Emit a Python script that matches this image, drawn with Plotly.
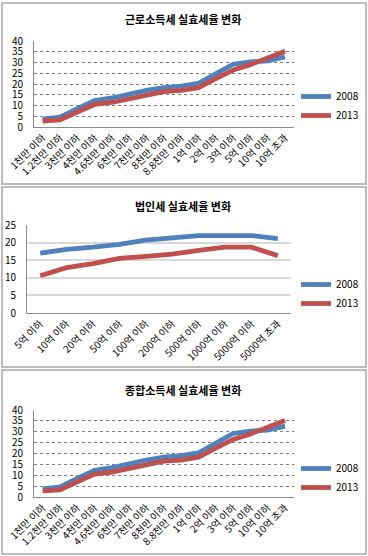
import plotly.graph_objects as go

W, H = 368, 556

# ---- data ----
income_cats = ["1천만 이하", "1.2천만 이하", "3천만 이하", "4천만 이하", "4.6천만 이하",
               "6천만 이하", "7천만 이하", "8천만 이하", "8.8천만 이하", "1억 이하",
               "2억 이하", "3억 이하", "5억 이하", "10억 이하", "10억 초과"]
labor_2008 = [3.7, 4.6, 8.5, 12.3, 13.5, 15.3, 17.0, 18.3, 19.0, 20.3, 24.5, 29.2, 30.3, 30.8, 32.6]
labor_2013 = [2.8, 3.3, 7.0, 10.5, 11.4, 13.0, 15.0, 16.5, 17.0, 18.3, 22.5, 26.5, 29.0, 32.0, 35.2]

corp_cats = ["5억 이하", "10억 이하", "20억 이하", "50억 이하", "100억 이하",
             "200억 이하", "500억 이하", "1000억 이하", "5000억 이하", "5000억 초과"]
corp_2008 = [17.0, 18.1, 18.7, 19.5, 20.7, 21.2, 22.0, 22.0, 22.0, 21.1]
corp_2013 = [10.6, 12.9, 14.0, 15.5, 16.1, 16.7, 17.8, 18.7, 18.7, 16.3]

global_2008 = [3.7, 4.6, 8.5, 12.3, 13.5, 15.3, 17.0, 18.3, 19.0, 20.3, 24.5, 29.2, 30.3, 30.8, 32.6]
global_2013 = [2.8, 3.3, 7.0, 10.5, 11.4, 13.0, 15.0, 16.5, 17.0, 18.3, 22.5, 26.5, 29.0, 32.0, 35.2]

titles = ["근로소득세 실효세율 변화", "법인세 실효세율 변화", "종합소득세 실효세율 변화"]
series_names = ["2008", "2013"]

BLUE = "#4F81BD"
RED = "#C0504D"
FONT = "Noto Sans CJK KR"

def px(x):
    return x / W

def py(y):
    return 1 - y / H

panels = [
    dict(cats=income_cats, a=labor_2008, b=labor_2013, ymax=40,
         xdom=[px(34), px(293.7)], ydom=[py(127), py(41)], grid="dot",
         box=(2, 3, 366, 184), title_y=19, leg_y=82),
    dict(cats=corp_cats, a=corp_2008, b=corp_2013, ymax=25,
         xdom=[px(27), px(291)], ydom=[py(313), py(225)], grid="solid",
         box=(2, 187, 366, 367), title_y=206, leg_y=270),
    dict(cats=income_cats, a=global_2008, b=global_2013, ymax=40,
         xdom=[px(34), px(293.7)], ydom=[py(497), py(410)], grid="dot",
         box=(2, 370, 366, 554), title_y=390, leg_y=454),
]

fig = go.Figure()
layout = dict(
    width=W, height=H, margin=dict(l=0, r=0, t=0, b=0, autoexpand=False),
    paper_bgcolor="white", plot_bgcolor="white",
    font=dict(family=FONT, color="#000000", size=10),
    shapes=[], annotations=[],
)

for i, p in enumerate(panels):
    n = i + 1
    xa = "x" if n == 1 else f"x{n}"
    ya = "y" if n == 1 else f"y{n}"
    leg = "legend" if n == 1 else f"legend{n}"
    for name, vals, col in [(series_names[0], p["a"], BLUE), (series_names[1], p["b"], RED)]:
        fig.add_trace(go.Scatter(
            x=p["cats"], y=vals, mode="lines", name=name,
            line=dict(color=col, width=4.8),
            xaxis=xa, yaxis=ya, legend=leg, showlegend=True,
        ))
    xkey = "xaxis" if n == 1 else f"xaxis{n}"
    ykey = "yaxis" if n == 1 else f"yaxis{n}"
    layout[xkey] = dict(
        domain=p["xdom"], anchor=ya, type="category",
        range=[-0.5, len(p["cats"]) - 0.5],
        tickangle=-45, tickfont=dict(size=10, family=FONT),
        showgrid=False, showline=True, linecolor="#8c8c8c", linewidth=1,
        ticks="", zeroline=False, fixedrange=True, automargin=False,
    )
    layout[ykey] = dict(
        domain=p["ydom"], anchor=xa, range=[0, p["ymax"]], dtick=5,
        tickfont=dict(size=10, family=FONT),
        showgrid=True,
        gridcolor="#808080" if p["grid"] == "dot" else "#d9d9d9",
        griddash=p["grid"], gridwidth=1 if p["grid"] == "dot" else 1.5,
        showline=True, linecolor="#8c8c8c", linewidth=1,
        zeroline=False, ticks="", ticklabelstandoff=8, fixedrange=True,
        automargin=False,
    )
    layout[leg] = dict(
        x=px(296), y=py(p["leg_y"]), xanchor="left", yanchor="top",
        bgcolor="rgba(0,0,0,0)", font=dict(size=10, family=FONT),
        itemwidth=30, tracegroupgap=0,
    )
    x0, y0, x1, y1 = p["box"]
    layout["shapes"].append(dict(
        type="rect", xref="paper", yref="paper",
        x0=px(x0), x1=px(x1), y0=py(y1), y1=py(y0),
        line=dict(color="#a6a6a6", width=1.5), fillcolor="rgba(0,0,0,0)", layer="below",
    ))
    layout["annotations"].append(dict(
        text=f"<b>{titles[i]}</b>", xref="paper", yref="paper",
        x=px(183), y=py(p["title_y"]), xanchor="center", yanchor="middle",
        showarrow=False, font=dict(size=11, family=FONT),
    ))

fig.update_layout(**layout)
fig.write_html(
    "out.html",
    config={"displayModeBar": False, "responsive": False},
    post_script="document.body.style.margin='0';document.body.style.overflow='hidden';",
)
